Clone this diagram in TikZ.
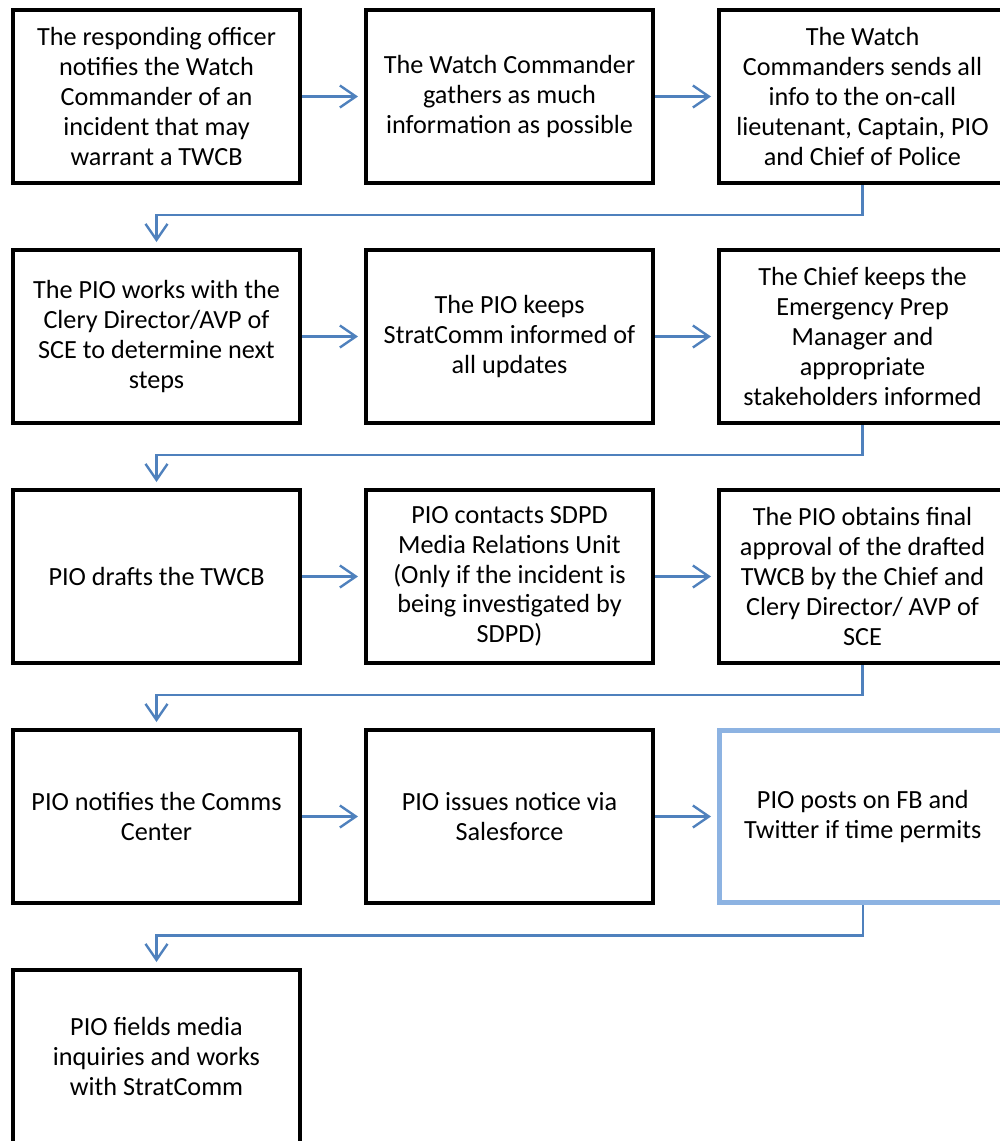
\documentclass[tikz,border=0pt]{standalone}
\usepackage{fontspec}
\setmainfont{Carlito}
\usetikzlibrary{positioning,arrows.meta}
\definecolor{flowblue}{RGB}{79,129,189}
\definecolor{paleblue}{RGB}{141,179,226}
\begin{document}
\begin{tikzpicture}[
  box/.style={draw,line width=2.2pt,minimum width=143.3pt,minimum height=86.3pt,inner sep=0pt,align=center,font=\fontsize{13.1}{14.9}\selectfont},
  flow/.style={draw=flowblue,line width=1.2pt,-{Straight Barb[length=8pt,width=11pt]},shorten >=3pt},
  node distance=31.5pt and 31pt]
\useasboundingbox (0,0) rectangle (500pt,-570.5pt);
\clip (0,0) rectangle (500pt,-570.5pt);
% row 1
\node[box] (officer) at (78.25pt,-48.25pt) {The responding officer\\notifies the Watch\\Commander of an\\incident that may\\warrant a TWCB};
\node[box,right=of officer] (gather) {The Watch Commander\\gathers as much\\information as possible};
\node[box,right=of gather] (sendall) {The Watch\\Commanders sends all\\info to the on-call\\lieutenant, Captain, PIO\\and Chief of Police};
% row 2
\node[box,below=of officer] (clery) {The PIO works with the\\Clery Director/AVP of\\SCE to determine next\\steps};
\node[box,right=of clery] (keeps) {The PIO keeps\\StratComm informed of\\all updates};
\node[box,right=of keeps] (chief) {The Chief keeps the\\Emergency Prep\\Manager and\\appropriate\\stakeholders informed};
% row 3
\node[box,below=of clery] (drafts) {PIO drafts the TWCB};
\node[box,right=of drafts] (sdpd) {PIO contacts SDPD\\Media Relations Unit\\(Only if the incident is\\being investigated by\\SDPD)};
\node[box,right=of sdpd] (approval) {The PIO obtains final\\approval of the drafted\\TWCB by the Chief and\\Clery Director/ AVP of\\SCE};
% row 4
\node[box,below=of drafts] (comms) {PIO notifies the Comms\\Center};
\node[box,right=of comms] (notice) {PIO issues notice via\\Salesforce};
\node[box,right=of notice,draw=paleblue,line width=2.5pt] (posts) {PIO posts on FB and\\Twitter if time permits};
% row 5
\node[box,below=of comms] (media) {PIO fields media\\inquiries and works\\with StratComm};
% connectors
\draw[flow] (officer) -- (gather);
\draw[flow] (gather) -- (sendall);
\draw[flow] (sendall.south) -- ++(0,-15pt) -| (clery.north);
\draw[flow] (clery) -- (keeps);
\draw[flow] (keeps) -- (chief);
\draw[flow] (chief.south) -- ++(0,-15pt) -| (drafts.north);
\draw[flow] (drafts) -- (sdpd);
\draw[flow] (sdpd) -- (approval);
\draw[flow] (approval.south) -- ++(0,-15pt) -| (comms.north);
\draw[flow] (comms) -- (notice);
\draw[flow] (notice) -- (posts);
\draw[flow] (posts.south) -- ++(0,-15pt) -| (media.north);
\end{tikzpicture}
\end{document}
